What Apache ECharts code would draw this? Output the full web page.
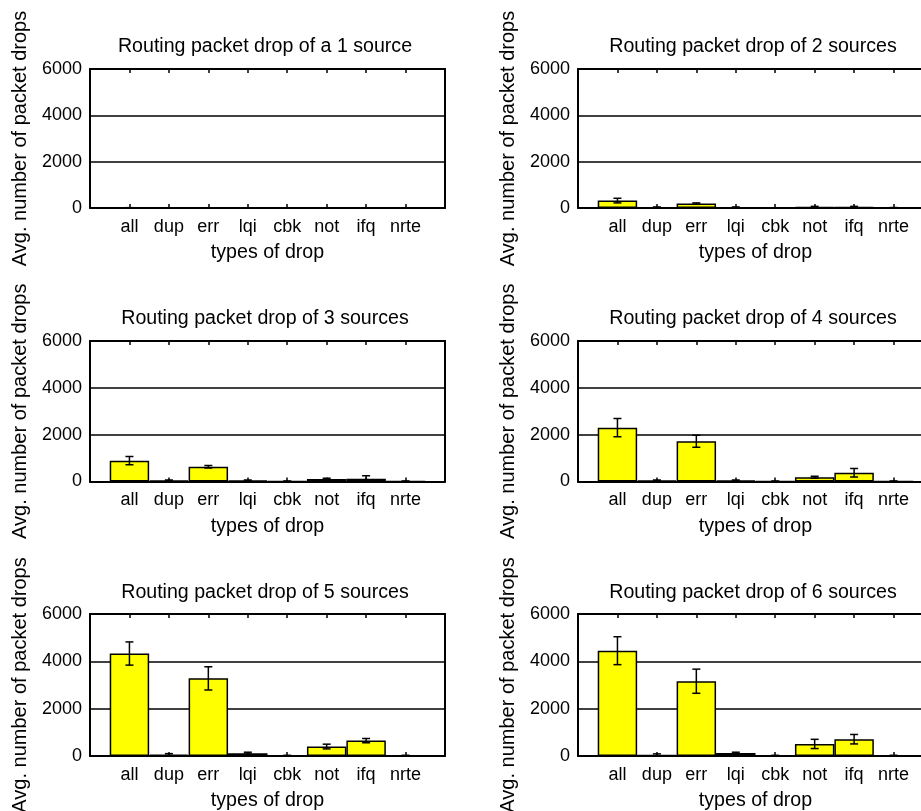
<!DOCTYPE html>
<html><head><meta charset="utf-8">
<script src="https://cdn.jsdelivr.net/npm/echarts@6/dist/echarts.min.js"></script>
<style>html,body{margin:0;padding:0;background:#fff}#c{width:921px;height:811px}</style>
</head><body><div id="c"></div>
<script>
// ---- data ----
const categories = ['all', 'dup', 'err', 'lqi', 'cbk', 'not', 'ifq', 'nrte'];
const yTicks = [0, 2000, 4000, 6000];
const titles = [
  'Routing packet drop of a 1 source',
  'Routing packet drop of 2 sources',
  'Routing packet drop of 3 sources',
  'Routing packet drop of 4 sources',
  'Routing packet drop of 5 sources',
  'Routing packet drop of 6 sources'
];
const xLabel = 'types of drop';
const yLabel = 'Avg. number of packet drops';

const mean1 = [10, 3, 8, 3, 0, 3, 3, 0];
const err1  = [5, 2, 4, 2, 0, 2, 2, 0];
const mean2 = [320, 30, 190, 30, 0, 40, 40, 0];
const err2  = [100, 15, 30, 15, 10, 30, 30, 20];
const mean3 = [890, 40, 630, 40, 0, 110, 115, 0];
const err3  = [180, 20, 50, 20, 20, 30, 130, 20];
const mean4 = [2300, 40, 1720, 40, 0, 180, 370, 0];
const err4  = [390, 20, 260, 20, 20, 40, 180, 20];
const mean5 = [4330, 60, 3280, 120, 0, 400, 650, 0];
const err5  = [490, 40, 490, 40, 30, 100, 90, 30];
const mean6 = [4450, 50, 3160, 130, 0, 510, 710, 0];
const err6  = [590, 40, 510, 30, 30, 195, 200, 30];

const means = [mean1, mean2, mean3, mean4, mean5, mean6];
const errs = [err1, err2, err3, err4, err5, err6];

// ---- layout ----
const FONT = '"Liberation Sans", Arial, Helvetica, sans-serif';
const colLeft = [90, 578];
const plotW = 355;
const rowTop = [69, 341, 614];
const rowH = [139, 140.5, 142];
const titleTop = [37, 309, 583];

const axisCats = [''].concat(categories, ['']);

const grid = [], xAxis = [], yAxis = [], series = [], title = [];

for (let p = 0; p < 6; p++) {
  const r = Math.floor(p / 2), c = p % 2;
  grid.push({ left: colLeft[c], top: rowTop[r], width: plotW, height: rowH[r], containLabel: false, outerBoundsMode: 'none' });
  title.push({
    text: titles[p], left: colLeft[c] + plotW / 2 - 2.5, top: titleTop[r], textAlign: 'center', padding: 0,
    textStyle: { fontFamily: FONT, fontSize: 19.6, fontWeight: 'normal', color: '#000' }
  });
  const lineStyle = { color: '#000', width: 2 };
  xAxis.push({
    type: 'category', gridIndex: p, data: axisCats, boundaryGap: false, position: 'bottom',
    axisLine: { show: true, onZero: false, lineStyle },
    axisTick: { show: true, inside: true, length: 4, interval: 0, lineStyle: { color: '#000', width: 1.5 } },
    axisLabel: { show: true, interval: 0, margin: 10, color: '#000', fontFamily: FONT, fontSize: 18, hideOverlap: false },
    splitLine: { show: false },
    name: xLabel, nameLocation: 'middle', nameGap: 35,
    nameTextStyle: { fontFamily: FONT, fontSize: 19.6, color: '#000' }
  });
  xAxis.push({
    type: 'category', gridIndex: p, data: axisCats, boundaryGap: false, position: 'top',
    axisLine: { show: true, onZero: false, lineStyle },
    axisTick: { show: true, inside: true, length: 4, interval: 0, lineStyle: { color: '#000', width: 1.5 } },
    axisLabel: { show: false }, splitLine: { show: false }
  });
  yAxis.push({
    type: 'value', gridIndex: p, min: yTicks[0], max: yTicks[yTicks.length - 1], interval: yTicks[1] - yTicks[0],
    position: 'left',
    axisLine: { show: true, onZero: false, lineStyle },
    axisTick: { show: false },
    axisLabel: { show: true, margin: 8, color: '#000', fontFamily: FONT, fontSize: 18, formatter: v => String(v) },
    splitLine: { show: true, lineStyle: { color: '#000', width: 1.5 } },
    name: yLabel, nameLocation: 'middle', nameGap: 60, nameRotate: 90,
    nameTextStyle: { fontFamily: FONT, fontSize: 20, color: '#000' }
  });
  yAxis.push({
    type: 'value', gridIndex: p, min: yTicks[0], max: yTicks[yTicks.length - 1], interval: yTicks[1] - yTicks[0],
    position: 'right',
    axisLine: { show: true, onZero: false, lineStyle },
    axisTick: { show: false }, axisLabel: { show: false }, splitLine: { show: false }
  });
  series.push({
    type: 'bar', xAxisIndex: 2 * p, yAxisIndex: 2 * p,
    data: ['-'].concat(means[p], ['-']),
    barWidth: '100%',
    itemStyle: { color: '#ffff00', borderColor: '#000', borderWidth: 1.5 },
    silent: true, z: 3
  });
  series.push({
    type: 'custom', xAxisIndex: 2 * p, yAxisIndex: 2 * p, clip: true, z: 4, silent: true,
    encode: { x: 0, y: [1, 2] },
    data: means[p].map((m, i) => [i + 1, m - errs[p][i], m + errs[p][i]]),
    renderItem: function (params, api) {
      const x = api.value(0);
      const lo = Math.max(0, api.value(1));
      const hi = api.value(2);
      const a = api.coord([x, lo]);
      const b = api.coord([x, hi]);
      const w = 4;
      const st = { stroke: '#000', lineWidth: 1.5 };
      return {
        type: 'group', children: [
          { type: 'line', shape: { x1: a[0], y1: a[1], x2: b[0], y2: b[1] }, style: st },
          { type: 'line', shape: { x1: a[0] - w, y1: a[1], x2: a[0] + w, y2: a[1] }, style: st },
          { type: 'line', shape: { x1: b[0] - w, y1: b[1], x2: b[0] + w, y2: b[1] }, style: st }
        ]
      };
    }
  });
}

const chart = echarts.init(document.getElementById('c'), null, { renderer: 'canvas' });
chart.setOption({
  animation: false,
  backgroundColor: '#fff',
  title, grid, xAxis, yAxis, series
});
</script>
</body></html>
